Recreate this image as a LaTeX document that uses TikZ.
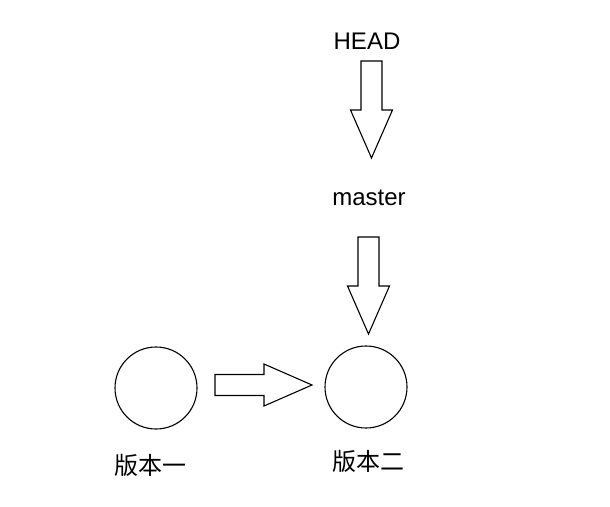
\documentclass[tikz,border=0pt]{standalone}
\usepackage{fontspec}
\setmainfont{Liberation Sans}
\newfontfamily\cjk{Noto Sans CJK SC}

\tikzset{
  version/.style={circle, draw, minimum size=82pt, inner sep=0pt},
  tag/.style={font=\fontsize{24}{28}\selectfont},
  cjktag/.style={font=\cjk\fontsize{24}{28}\selectfont},
  blockarrow/.pic={
    \draw (0,-10.5) -- (49,-10.5) -- (49,-21) -- (97,0) -- (49,21) --
          (49,10.5) -- (0,10.5) -- cycle;
  }
}

\begin{document}
\begin{tikzpicture}[x=1pt, y=-1pt, line width=1.1pt]
  \useasboundingbox (0,0) rectangle (610,506);
  % pointers
  \node[tag] (head) at (367,41) {HEAD};
  \node[tag] (master) at (369,198) {master};
  % commits
  \node[version] (v1) at (156,388) {};
  \node[version] (v2) at (366,387) {};
  \node[cjktag] (v1name) at (150,465) {版本一};
  \node[cjktag] (v2name) at (368,461) {版本二};
  % block arrows
  \pic[rotate=-90] (headarrow) at (371.5,61) {blockarrow};
  \pic[rotate=-90] (masterarrow) at (368.5,237) {blockarrow};
  \pic (commitarrow) at (215,385) {blockarrow};
\end{tikzpicture}
\end{document}
